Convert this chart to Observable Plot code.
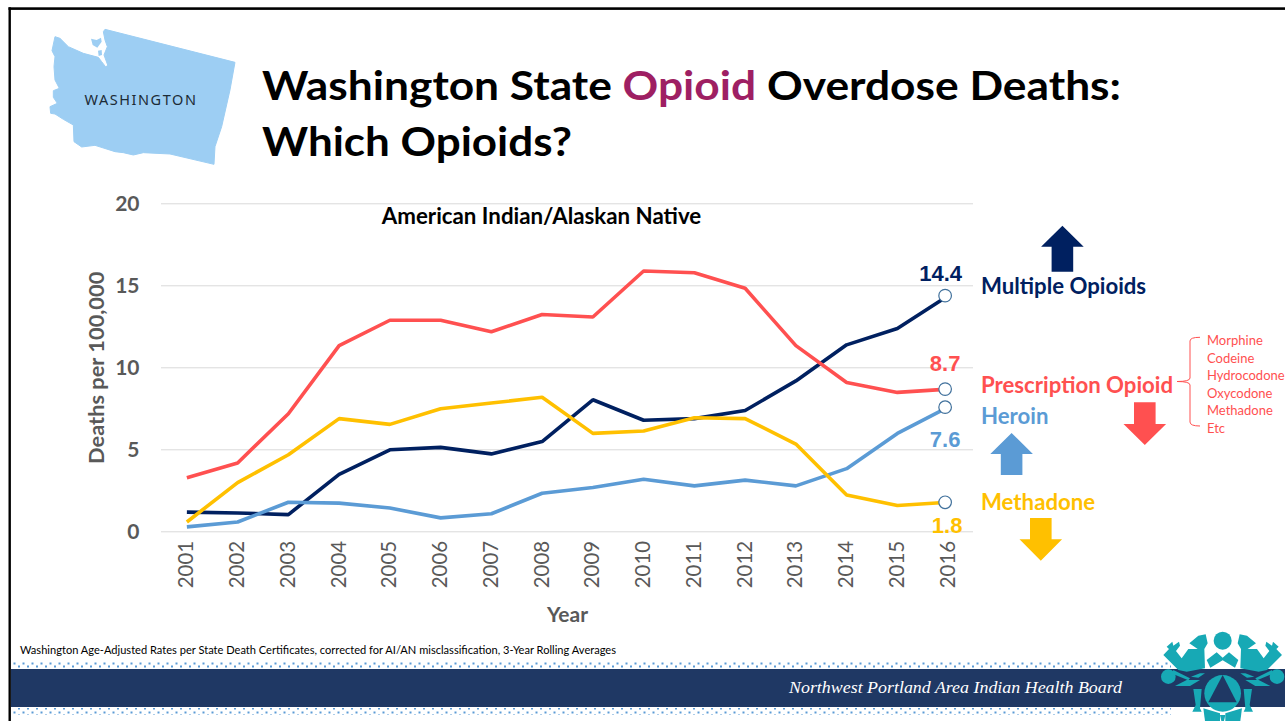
<!DOCTYPE html>
<html>
<head>
<meta charset="utf-8">
<script src="https://cdn.jsdelivr.net/npm/d3@7"></script>
<script src="https://cdn.jsdelivr.net/npm/@observablehq/plot@0.6"></script>
<style>
  html, body { margin: 0; padding: 0; background: #fff; overflow: hidden; }
  #slide { position: relative; width: 1285px; height: 721px; overflow: hidden; }
  #slide svg { position: absolute; left: 0; top: 0; }
</style>
</head>
<body>
<div id="slide"></div>
<script>
// Age-adjusted opioid overdose death rates, American Indian/Alaskan Native, Washington State
const years = ["2001","2002","2003","2004","2005","2006","2007","2008","2009","2010","2011","2012","2013","2014","2015","2016"];
const multipleOpioids = [1.2,1.15,1.05,3.5,5.0,5.15,4.75,5.5,8.05,6.8,6.9,7.4,9.2,11.4,12.4,14.4];
const prescriptionOpioid = [3.3,4.2,7.2,11.35,12.9,12.9,12.2,13.25,13.1,15.9,15.8,14.85,11.35,9.1,8.5,8.7];
const heroin = [0.3,0.6,1.8,1.75,1.45,0.85,1.1,2.35,2.7,3.2,2.8,3.15,2.8,3.85,6.0,7.6];
const methadone = [0.6,3.0,4.7,6.9,6.55,7.5,7.85,8.2,6.0,6.15,6.95,6.9,5.35,2.25,1.6,1.8];
const yTicks = [0,5,10,15,20];
const prescriptionKinds = ["Morphine","Codeine","Hydrocodone","Oxycodone","Methadone","Etc"];

const NAVY = "#002060", RED = "#FF5050", BLUE = "#5B9BD5", GOLD = "#FFC000";
const GREY = "#595959";
const TEAL = "#17A9B5", BAND = "#1F3864";

const toRows = (values) => values.map((value, i) => ({year: years[i], value}));
const series = [
  {rows: toRows(multipleOpioids), color: NAVY, labelDx: -7.5, labelDy: -22},
  {rows: toRows(prescriptionOpioid), color: RED, labelDx: -3, labelDy: -24.8},
  {rows: toRows(heroin), color: BLUE, labelDx: -3, labelDy: 33},
  {rows: toRows(methadone), color: GOLD, labelDx: -1, labelDy: 23.3}
];

const chart = Plot.plot({
  width: 1285,
  height: 721,
  marginLeft: 161,
  marginRight: 312,
  marginTop: 203.3,
  marginBottom: 189.7,
  style: {background: "transparent", overflow: "visible", fontFamily: "Lato, sans-serif"},
  x: {type: "point", domain: years, padding: 0.5, round: false},
  y: {domain: [0, 20]},
  marks: [
    Plot.gridY(yTicks, {stroke: "#D9D9D9", strokeOpacity: 1, strokeWidth: 1}),
    Plot.axisY(yTicks, {
      tickSize: 0, tickPadding: 22, fontSize: 21, fontWeight: 700, fill: GREY,
      label: null
    }),
    Plot.axisX(years, {
      tickSize: 0, tickRotate: -90, tickPadding: 9, fontSize: 20.5, fill: GREY,
      label: null
    }),
    Plot.text(["Deaths per 100,000"], {
      frameAnchor: "left", textAnchor: "middle", rotate: -90, dx: -64,
      fontSize: 21.8, fontWeight: 700, fill: GREY
    }),
    Plot.text(["Year"], {
      frameAnchor: "bottom", dy: 90, fontSize: 21, fontWeight: 700, fill: GREY
    }),
    Plot.text(["American Indian/Alaskan Native"], {
      frameAnchor: "top", dx: -26, dy: 4, fontSize: 22.3, fontWeight: 700, fill: "#000"
    }),
    ...series.map((s) => Plot.line(s.rows, {
      x: "year", y: "value", stroke: s.color, strokeWidth: 3.6,
      strokeLinejoin: "miter", strokeLinecap: "butt"
    })),
    ...series.map((s) => Plot.dot(s.rows.slice(-1), {
      x: "year", y: "value", r: 6.3, dx: -3,
      fill: "#fff", stroke: "#41719C", strokeWidth: 1.2
    })),
    ...series.map((s) => Plot.text(s.rows.slice(-1), {
      x: "year", y: "value", text: (d) => d.value.toFixed(1), dx: s.labelDx, dy: s.labelDy,
      fontSize: 22, fontWeight: 700, fill: s.color,
      fontFamily: "'Liberation Sans', sans-serif"
    }))
  ]
});

// Slide furniture behind the chart: frame, footer band, state map, logo
const SVG_NS = "http://www.w3.org/2000/svg";
function arrow(cx, tipY, baseY, headY, color) {
  const hw = 21.3, sw = 10.8;
  return `<polygon fill="${color}" points="${cx},${tipY} ${cx + hw},${headY} ${cx + sw},${headY} ${cx + sw},${baseY} ${cx - sw},${baseY} ${cx - sw},${headY} ${cx - hw},${headY}"/>`;
}
function label(x, y, text, color, size, extra = "") {
  return `<text x="${x}" y="${y}" fill="${color}" font-size="${size}" ${extra}>${text}</text>`;
}
// One half of the emblem, drawn in a 390-wide local frame and mirrored about its centre
const logoHalf = `
  <path d="M25 90 L42 72 L35 65 L52 50 L55 62 L72 50 L75 62 L63 78 L80 100 L100 72 L128 72 L103 55 L130 32 L152 28 L158 55 L148 72 L150 130 L95 140 L70 135 Z"/>
  <circle cx="40" cy="155" r="22"/>
  <path d="M55 135 L105 160 L100 166 L52 146 Z"/>
  <path d="M108 155 L135 145 L150 145 L130 158 Z"/>
  <path d="M60 183 L95 165 L135 165 L105 183 Z"/>
  <path d="M115 192 L140 192 L135 250 L140 260 L112 260 L122 240 Z"/>
  <path d="M145 250 L195 265 L195 288 L150 288 Z"/>
`;

const backdrop = document.createElementNS(SVG_NS, "svg");
backdrop.setAttribute("width", 1285);
backdrop.setAttribute("height", 721);
backdrop.style.fontFamily = "Lato, sans-serif";
backdrop.innerHTML = `
  <defs>
    <pattern id="dots" width="9" height="7" patternUnits="userSpaceOnUse">
      <rect x="0" y="0.5" width="2" height="2" fill="#5B9BD5"/>
      <rect x="4.5" y="4.5" width="2" height="2" fill="#5B9BD5"/>
    </pattern>
  </defs>
  <rect x="0" y="0" width="1285" height="721" fill="#fff"/>
  <rect x="8.5" y="7.3" width="1276.5" height="2.6" fill="#000"/>
  <rect x="8.5" y="7.3" width="2.4" height="713.7" fill="#000"/>
  <rect x="11" y="661" width="1160" height="7" fill="url(#dots)"/>
  <rect x="11" y="708" width="1160" height="7" fill="url(#dots)"/>
  <rect x="11" y="669" width="1274" height="38" fill="${BAND}"/>
  <g transform="scale(0.33333)">
    <path fill="#9DCEF3" stroke="#9DCEF3" stroke-width="3" stroke-linejoin="round" d="M315 88 L705 187 L690 270 L665 380 L645 440 L642 493 L510 462 L430 458 L400 465 L370 458 L345 455 L285 436 L245 441 L222 425 L220 375 L190 358 L165 342 L152 340 L150 320 L172 310 L160 292 L160 272 L178 265 L165 240 L162 200 L165 170 L156 152 L165 110 L180 115 L205 140 L250 160 L295 172 L305 185 L318 202 L323 195 L312 165 L322 140 L315 120 L310 95 Z"/>
    <path fill="#9DCEF3" d="M273 116 L290 120 L303 113 L305 125 L292 143 L278 135 Z M294 152 L305 150 L306 165 L296 168 Z"/>
  </g>
  ${label(84.5, 105, "WASHINGTON", "#1c2b36", 14.5, 'letter-spacing="1.55" style="font-family:\'Noto Sans\',sans-serif"')}
  <text x="262" y="100" font-size="41" font-weight="700" fill="#000" textLength="859" lengthAdjust="spacingAndGlyphs">Washington State <tspan fill="#9E1F63">Opioid</tspan> Overdose Deaths:</text>
  <text x="262" y="156" font-size="41" font-weight="700" fill="#000" textLength="310" lengthAdjust="spacingAndGlyphs">Which Opioids?</text>
  ${arrow(1062.4, 225.7, 271.7, 246.7, NAVY)}
  ${arrow(1144.8, 445, 402.3, 424, RED)}
  ${arrow(1011.6, 433, 475, 454, BLUE)}
  ${arrow(1040.8, 560.7, 518, 539.3, GOLD)}
  ${label(981, 293.5, "Multiple Opioids", NAVY, 22.2, 'font-weight="700"')}
  ${label(981, 392.7, "Prescription Opioid", RED, 22.2, 'font-weight="700"')}
  ${label(981, 423.5, "Heroin", BLUE, 22.2, 'font-weight="700"')}
  ${label(981, 509.5, "Methadone", GOLD, 22.2, 'font-weight="700"')}
  <path fill="none" stroke="${RED}" stroke-width="1" d="M1200 337.3 Q1190 337.3 1190 341 L1190 378 Q1190 381.5 1177 381.5 Q1190 381.5 1190 385 L1190 422 Q1190 426 1200 426"/>
  ${prescriptionKinds.map((k, i) => label(1207, 345 + i * 17.6, k, RED, 13)).join("")}
  <text x="20" y="654" font-size="10.5" fill="#000" textLength="596" lengthAdjust="spacingAndGlyphs">Washington Age-Adjusted Rates per State Death Certificates, corrected for AI/AN misclassification, 3-Year Rolling Averages</text>
  <text x="789" y="693" font-size="17.5" fill="#fff" font-style="italic" style="font-family:'Liberation Serif',serif" textLength="333" lengthAdjust="spacingAndGlyphs">Northwest Portland Area Indian Health Board</text>
  <g transform="translate(1155 625) scale(0.33333)" fill="${TEAL}">
    <g>${logoHalf}</g>
    <g transform="translate(406 0) scale(-1 1)">${logoHalf}</g>
    <circle cx="203" cy="47" r="27"/>
    <path d="M155 105 L185 82 L203 98 L222 82 L250 105 L240 128 L203 106 L166 128 Z"/>
    <path d="M195 270 L211 270 L207 288 L199 288 Z"/>
    <circle cx="203" cy="205" r="55"/>
    <polygon fill="${BAND}" points="203,150 245,232 160,232"/>
  </g>
`;

const slide = document.getElementById("slide");
slide.appendChild(backdrop);
slide.appendChild(chart);
</script>
</body>
</html>
